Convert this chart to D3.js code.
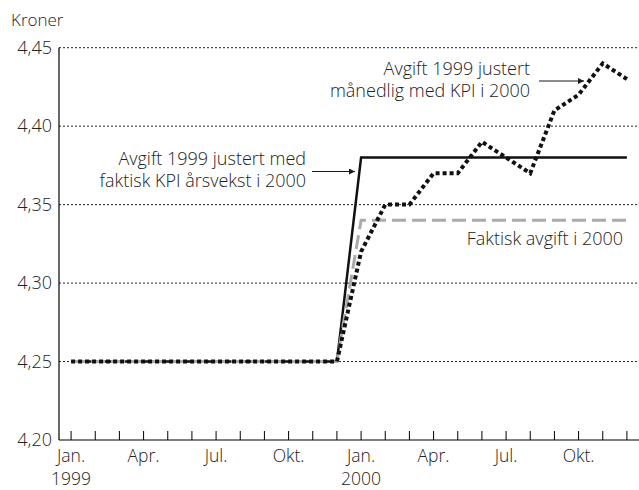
<!DOCTYPE html>
<html>
<head>
<meta charset="utf-8">
<script src="https://cdn.jsdelivr.net/npm/d3@7"></script>
<style>
  body { margin: 0; background: #fff; }
  svg text { font-family: "Open Sans", "Noto Sans", sans-serif; font-weight: 300; fill: #222; }
</style>
</head>
<body>
<svg width="639" height="490"></svg>
<script>
// months jan 1999 .. des 2000
var months = ['jan99','feb99','mar99','apr99','mai99','jun99','jul99','aug99','sep99','okt99','nov99','des99',
              'jan00','feb00','mar00','apr00','mai00','jun00','jul00','aug00','sep00','okt00','nov00','des00'];

var aarsvekstKpi = [4.25,4.25,4.25,4.25,4.25,4.25,4.25,4.25,4.25,4.25,4.25,4.25,
                    4.38,4.38,4.38,4.38,4.38,4.38,4.38,4.38,4.38,4.38,4.38,4.38];
var faktiskAvgift = [4.25,4.25,4.25,4.25,4.25,4.25,4.25,4.25,4.25,4.25,4.25,4.25,
                     4.34,4.34,4.34,4.34,4.34,4.34,4.34,4.34,4.34,4.34,4.34,4.34];
var maanedligKpi = [4.25,4.25,4.25,4.25,4.25,4.25,4.25,4.25,4.25,4.25,4.25,4.25,
                    4.32,4.35,4.35,4.37,4.37,4.39,4.38,4.37,4.41,4.42,4.44,4.43];

var yTicks = [4.20, 4.25, 4.30, 4.35, 4.40, 4.45];
var xLabels = {0: 'Jan.', 3: 'Apr.', 6: 'Jul.', 9: 'Okt.', 12: 'Jan.', 15: 'Apr.', 18: 'Jul.', 21: 'Okt.'};
var yearLabels = {0: '1999', 12: '2000'};

var svg = d3.select('svg'),
    w = +svg.attr('width'),
    h = +svg.attr('height');

var x = d3.scaleLinear().domain([-0.5, 23.5]).range([59, 639]),
    y = d3.scaleLinear().domain([4.20, 4.45]).range([440, 47.7]);

var fmt = function(d) { return d3.format('.2f')(d).replace('.', ','); };

// arrow head
svg.append('defs').append('marker')
    .attr('id', 'arrow')
    .attr('viewBox', '0 0 10 10')
    .attr('refX', 10).attr('refY', 5)
    .attr('markerWidth', 9).attr('markerHeight', 6)
    .attr('markerUnits', 'userSpaceOnUse')
    .attr('orient', 'auto')
  .append('path')
    .attr('d', 'M0,0 L10,5 L0,10 z')
    .attr('fill', '#1a1a1a');

// grid lines
svg.append('g').selectAll('line')
    .data(yTicks.slice(1))
    .enter().append('line')
    .attr('x1', x.range()[0]).attr('x2', x.range()[1])
    .attr('y1', function(d) { return y(d); })
    .attr('y2', function(d) { return y(d); })
    .attr('stroke', '#222')
    .attr('stroke-width', 1)
    .attr('stroke-dasharray', '2,2');

// y labels
svg.append('g').selectAll('text')
    .data(yTicks)
    .enter().append('text')
    .attr('x', 52)
    .attr('y', function(d) { return y(d); })
    .attr('dy', '0.35em')
    .attr('text-anchor', 'end')
    .style('font-size', '18px')
    .text(fmt);

svg.append('text')
    .attr('x', 11).attr('y', 26)
    .style('font-size', '17px')
    .text('Kroner');

// axis lines
svg.append('line')
    .attr('x1', x.range()[0]).attr('x2', x.range()[0])
    .attr('y1', y.range()[0]).attr('y2', y.range()[1])
    .attr('stroke', '#000').attr('stroke-width', 1.2);
svg.append('line')
    .attr('x1', x.range()[0]).attr('x2', x.range()[1])
    .attr('y1', y.range()[0]).attr('y2', y.range()[0])
    .attr('stroke', '#000').attr('stroke-width', 1.2);

// month ticks
svg.append('g').selectAll('line')
    .data(months)
    .enter().append('line')
    .attr('x1', function(d, i) { return x(i); })
    .attr('x2', function(d, i) { return x(i); })
    .attr('y1', y.range()[0])
    .attr('y2', y.range()[0] - 9)
    .attr('stroke', '#000');

svg.append('g').selectAll('text')
    .data(Object.keys(xLabels))
    .enter().append('text')
    .attr('x', function(d) { return x(+d); })
    .attr('y', 462)
    .attr('text-anchor', 'middle')
    .style('font-size', '17.5px')
    .text(function(d) { return xLabels[d]; });

svg.append('g').selectAll('text')
    .data(Object.keys(yearLabels))
    .enter().append('text')
    .attr('x', function(d) { return x(+d); })
    .attr('y', 485)
    .attr('text-anchor', 'middle')
    .style('font-size', '17.5px')
    .text(function(d) { return yearLabels[d]; });

// series
var line = d3.line()
    .x(function(d, i) { return x(i); })
    .y(function(d) { return y(d); });

svg.append('path')
    .attr('d', line(aarsvekstKpi))
    .attr('fill', 'none')
    .attr('stroke', '#111')
    .attr('stroke-width', 2.5);

svg.append('path')
    .attr('d', line(faktiskAvgift))
    .attr('fill', 'none')
    .attr('stroke', '#aaa')
    .attr('stroke-width', 3)
    .attr('stroke-dasharray', '14,6');

svg.append('path')
    .attr('d', line(maanedligKpi))
    .attr('fill', 'none')
    .attr('stroke', '#111')
    .attr('stroke-width', 4)
    .attr('stroke-dasharray', '4,3');

// annotations
function label(lines, xr, yb) {
  var t = svg.append('text')
      .attr('text-anchor', 'end')
      .style('font-size', '18px');
  lines.forEach(function(s, i) {
    t.append('tspan').attr('x', xr).attr('y', yb + i * 22).text(s);
  });
}

label(['Avgift 1999 justert', 'månedlig med KPI i 2000'], 530, 75);
label(['Avgift 1999 justert med', 'faktisk KPI årsvekst i 2000'], 306, 165);
label(['Faktisk avgift i 2000'], 623, 245);

svg.append('line')
    .attr('x1', 539).attr('y1', 81).attr('x2', 584).attr('y2', 81)
    .attr('stroke', '#1a1a1a').attr('stroke-width', 1)
    .attr('marker-end', 'url(#arrow)');
svg.append('line')
    .attr('x1', 312).attr('y1', 171.5).attr('x2', 355).attr('y2', 171.5)
    .attr('stroke', '#1a1a1a').attr('stroke-width', 1)
    .attr('marker-end', 'url(#arrow)');
</script>
</body>
</html>
